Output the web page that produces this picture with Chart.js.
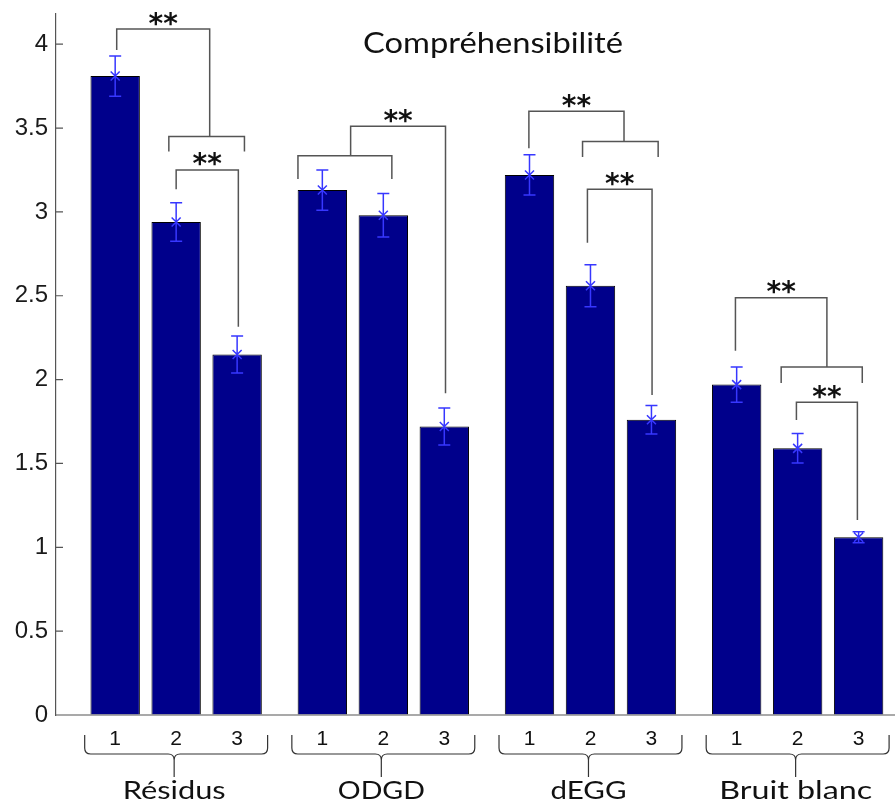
<!DOCTYPE html>
<html>
<head>
<meta charset="utf-8">
<script src="https://cdn.jsdelivr.net/npm/chart.js@4.4.0/dist/chart.umd.min.js"></script>
<style>
  html, body { margin: 0; padding: 0; background: #fff; }
  #wrap { width: 895px; height: 803px; }
</style>
</head>
<body>
<div id="wrap"><canvas id="chart" width="895" height="803"></canvas></div>
<script>
const title = "Compréhensibilité";
const groups = ["Résidus", "ODGD", "dEGG", "Bruit blanc"];
const conditions = ["1", "2", "3"];
const cond1 = [3.81, 3.13, 3.22, 1.97];
const cond2 = [2.94, 2.98, 2.56, 1.59];
const cond3 = [2.15, 1.72, 1.76, 1.06];
const err1 = [0.12, 0.12, 0.12, 0.105];
const err2 = [0.115, 0.13, 0.125, 0.088];
const err3 = [0.11, 0.11, 0.085, 0.033];
const yTicks = [0, 0.5, 1, 1.5, 2, 2.5, 3, 3.5, 4];

// significance brackets, x in bar slots inside a group (-1, 0, 1), y in data units
const pairBrackets = [
  { g: 0, a: 0, b: 1.02, y: 3.25, endA: 3.135, endB: 2.315 },
  { g: 2, a: -0.05, b: 1.01, y: 3.135, endA: 2.816, endB: 1.908 },
  { g: 3, a: -0.02, b: 0.98, y: 1.865, endA: 1.759, endB: 1.163 }
];
const groupBrackets = [
  { g: 0, lo: -0.12, hi: 1.12, stem: 0.55, y: 3.45, legEnd: 3.36, top: 4.09, bar: -0.975, barEnd: 3.965 },
  { g: 1, lo: -1.40, hi: 0.14, stem: -0.536, y: 3.335, legEnd: 3.196, top: 3.51, bar: 1.02, barEnd: 1.918 },
  { g: 2, lo: -0.13, hi: 1.11, stem: 0.55, y: 3.419, legEnd: 3.327, top: 3.60, bar: -1.01, barEnd: 3.379 },
  { g: 3, lo: -0.27, hi: 1.06, stem: 0.48, y: 2.075, legEnd: 1.98, top: 2.488, bar: -1.02, barEnd: 2.172 }
];
const labelWidths = [103, 87, 76, 153];

const values = [cond1, cond2, cond3];
const errors = [err1, err2, err3];

function fitText(ctx, text, cx, baseline, font, width) {
  ctx.save();
  ctx.font = font;
  const w = ctx.measureText(text).width;
  ctx.translate(cx, baseline);
  ctx.scale(width / w, 1);
  ctx.textAlign = "center";
  ctx.textBaseline = "alphabetic";
  ctx.fillText(text, 0, 0);
  ctx.restore();
}

const decor = {
  id: "decor",
  afterDatasetsDraw(chart) {
    const ctx = chart.ctx;
    const ys = chart.scales.y;
    const area = chart.chartArea;
    const mid = chart.getDatasetMeta(1).data;
    const slot = mid[0].x - chart.getDatasetMeta(0).data[0].x;
    const px = (g, s) => mid[g].x + s * slot;
    const py = v => ys.getPixelForValue(v);

    ctx.save();
    // axes
    ctx.strokeStyle = "#555";
    ctx.lineWidth = 1.2;
    ctx.beginPath();
    ctx.moveTo(area.left, area.bottom);
    ctx.lineTo(area.right, area.bottom);
    yTicks.forEach(t => {
      ctx.moveTo(area.left, py(t));
      ctx.lineTo(area.left + 7, py(t));
    });
    ctx.stroke();

    // error bars
    ctx.strokeStyle = "rgb(55,55,255)";
    ctx.lineWidth = 1.5;
    values.forEach((vals, k) => {
      const bars = chart.getDatasetMeta(k).data;
      vals.forEach((v, i) => {
        const x = bars[i].x;
        const t = py(v + errors[k][i]), b = py(v - errors[k][i]), m = py(v);
        ctx.beginPath();
        ctx.moveTo(x, t); ctx.lineTo(x, b);
        ctx.moveTo(x - 6, t); ctx.lineTo(x + 6, t);
        ctx.moveTo(x - 6, b); ctx.lineTo(x + 6, b);
        ctx.moveTo(x - 4.5, m - 4.5); ctx.lineTo(x + 4.5, m + 4.5);
        ctx.moveTo(x - 4.5, m + 4.5); ctx.lineTo(x + 4.5, m - 4.5);
        ctx.stroke();
      });
    });

    // significance brackets
    ctx.strokeStyle = "#555";
    ctx.lineWidth = 1.5;
    ctx.fillStyle = "#111";
    ctx.font = "bold 28px 'DejaVu Sans'";
    ctx.textAlign = "center";
    const stars = (x, lineY) => {
      const m = ctx.measureText("**");
      ctx.fillText("**", x, lineY - 3.5 - m.actualBoundingBoxDescent);
    };
    pairBrackets.forEach(p => {
      const xa = px(p.g, p.a), xb = px(p.g, p.b);
      ctx.beginPath();
      ctx.moveTo(xa, py(p.endA)); ctx.lineTo(xa, py(p.y));
      ctx.lineTo(xb, py(p.y)); ctx.lineTo(xb, py(p.endB));
      ctx.stroke();
      stars((xa + xb) / 2, py(p.y));
    });
    groupBrackets.forEach(p => {
      const xl = px(p.g, p.lo), xh = px(p.g, p.hi), xs = px(p.g, p.stem), xbar = px(p.g, p.bar);
      ctx.beginPath();
      ctx.moveTo(xl, py(p.legEnd)); ctx.lineTo(xl, py(p.y));
      ctx.lineTo(xh, py(p.y)); ctx.lineTo(xh, py(p.legEnd));
      ctx.moveTo(xs, py(p.y)); ctx.lineTo(xs, py(p.top));
      ctx.lineTo(xbar, py(p.top)); ctx.lineTo(xbar, py(p.barEnd));
      ctx.stroke();
      stars((xs + xbar) / 2, py(p.top));
    });

    // condition numbers under the bars
    ctx.fillStyle = "#111";
    ctx.font = "21px 'Liberation Sans'";
    ctx.textBaseline = "middle";
    values.forEach((vals, k) => {
      chart.getDatasetMeta(k).data.forEach(bar => {
        ctx.fillText(conditions[k], bar.x, area.bottom + 24);
      });
    });

    // braces and group names
    ctx.strokeStyle = "#333";
    ctx.lineWidth = 1.2;
    const y0 = area.bottom + 20, y1 = area.bottom + 39, y2 = area.bottom + 62, r = 6;
    groups.forEach((name, g) => {
      const cx = mid[g].x, half = 1.5 * slot, tip = cx - 2;
      ctx.beginPath();
      ctx.moveTo(cx - half, y0); ctx.lineTo(cx - half, y1 - r);
      ctx.quadraticCurveTo(cx - half, y1, cx - half + r, y1);
      ctx.lineTo(tip - r, y1);
      ctx.quadraticCurveTo(tip, y1, tip, y1 + r);
      ctx.lineTo(tip, y2);
      ctx.moveTo(cx + half, y0); ctx.lineTo(cx + half, y1 - r);
      ctx.quadraticCurveTo(cx + half, y1, cx + half - r, y1);
      ctx.lineTo(tip + r, y1);
      ctx.quadraticCurveTo(tip, y1, tip, y1 + r);
      ctx.stroke();
      fitText(ctx, name, tip, area.bottom + 84, "25px Lato", labelWidths[g]);
    });

    // title
    fitText(ctx, title, 493, 53, "29px Lato", 260);
    ctx.restore();
  }
};

new Chart(document.getElementById("chart"), {
  type: "bar",
  data: {
    datasets: values.map((vals, k) => ({
      label: conditions[k],
      data: vals.map((v, i) => ({ x: i + 1, y: v })),
      backgroundColor: "#00008b",
      borderColor: "#000",
      borderWidth: 1,
      categoryPercentage: 0.883,
      barPercentage: 0.81
    }))
  },
  options: {
    responsive: false,
    animation: false,
    layout: { padding: { top: 14, bottom: 88, left: 0, right: 0 } },
    plugins: { legend: { display: false }, tooltip: { enabled: false } },
    scales: {
      x: {
        type: "linear", display: false, min: 0.42, max: 4.47, offset: false,
        afterBuildTicks: s => { s.ticks = groups.map((_, i) => ({ value: i + 1 })); }
      },
      y: {
        min: 0,
        max: 4.18,
        afterFit: s => { s.width = 56; s.paddingTop = 0; s.paddingBottom = 0; },
        afterBuildTicks: s => { s.ticks = yTicks.map(v => ({ value: v })); },
        border: { color: "#555", width: 1.2 },
        grid: { drawOnChartArea: false, drawTicks: false },
        ticks: {
          padding: 8,
          color: "#1a1a1a",
          font: { family: "Liberation Sans", size: 24 },
          callback: v => String(v)
        }
      }
    }
  },
  plugins: [decor]
});
</script>
</body>
</html>
